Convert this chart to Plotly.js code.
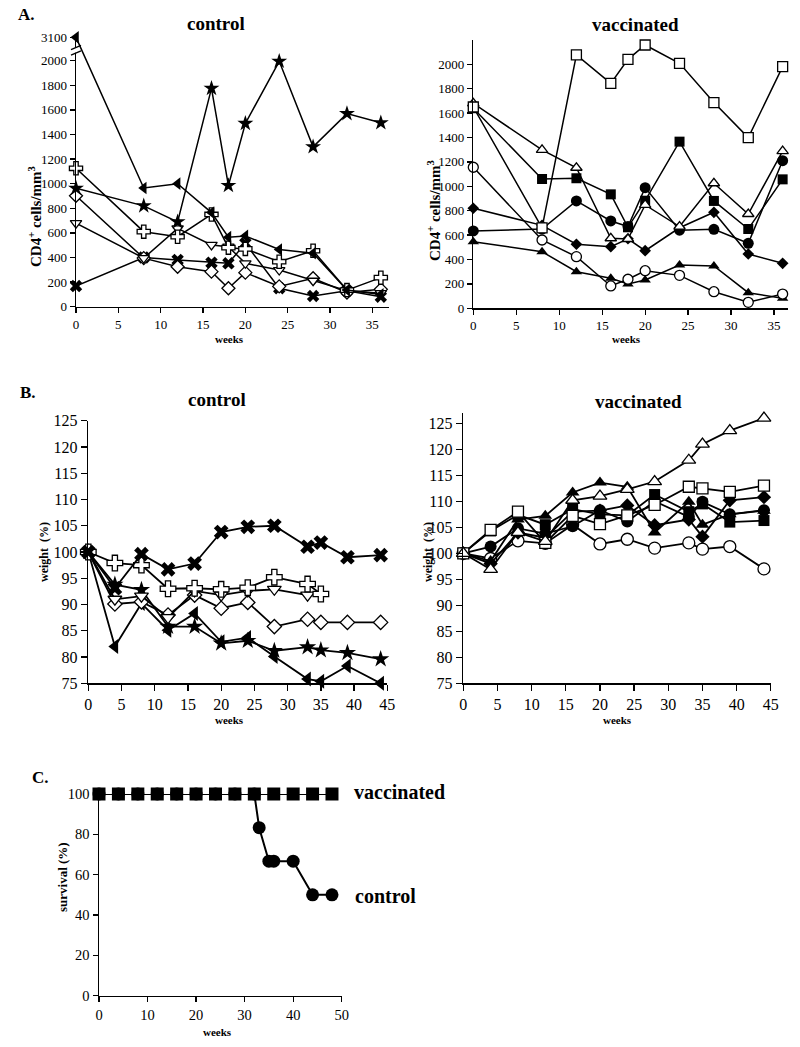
<!DOCTYPE html>
<html>
<head>
<meta charset="utf-8">
<script src="https://cdn.plot.ly/plotly-3.0.1.min.js"></script>
<style>
  body { margin: 0; background: white; }
  #fig { width: 800px; height: 1047px; }
</style>
</head>
<body>
<div id="fig"></div>
<script>
// CD4 counts and weights of control vs vaccinated animals, plus survival

// ---- A. CD4+ cells/mm3 ----
const weeksA = [0, 8, 12, 16, 18, 20, 24, 28, 32, 36];

const ctrlA_ltri   = [3100, 965, 1000, 765, 565, 575, 465, 435, 135, 100];
const ctrlA_star   = [963, 820, 690, 1775, 985, 1490, 1995, 1300, 1570, 1495];
const ctrlA_cross  = [1125, 610, 569, 750, 480, 470, 366, 455, 135, 236];
const ctrlA_tridn  = [680, 395, 637, 502, 488, 353, 298, 211, 130, 110];
const ctrlA_diam   = [902, 395, 325, 285, 150, 277, 165, 231, 115, 141];
const ctrlA_x      = [168, 400, 380, 358, 353, 515, 150, 87, 130, 81];

const vacA_sqOpen  = [1650, 660, 2077, 1844, 2041, 2158, 2008, 1686, 1399, 1981];
const vacA_triOpen = [1680, 1298, 1152, 574, 568, 847, 670, 1025, 773, 1289];
const vacA_sq      = [1640, 1060, 1066, 934, 664, 882, 1366, 880, 650, 1057];
const vacA_circ    = [634, 650, 880, 716, 670, 989, 640, 647, 533, 1210];
const vacA_diam    = [820, 680, 525, 505, 570, 472, 660, 787, 445, 369];
const vacA_circOpen= [1156, 560, 423, 183, 238, 308, 270, 136, 49, 117];
const vacA_tri     = [546, 464, 300, 246, 199, 232, 355, 347, 128, 82];

const ticksA = [0, 200, 400, 600, 800, 1000, 1200, 1400, 1600, 1800, 2000];

// ---- B. weight (%) ----
const weeksB = [0, 4, 8, 12, 16, 20, 24, 28, 33, 35, 39, 44];
const weeksB_cross = [0, 4, 8, 12, 16, 20, 24, 28, 33, 35];
const weeksB_tridn = [0, 4, 8, 12, 16, 20, 24, 28, 33];

const ctrlB_x     = [100, 93.1, 99.6, 96.7, 97.8, 103.8, 104.8, 105.0, 101.0, 101.8, 99.0, 99.4];
const ctrlB_cross = [100, 97.9, 97.5, 93.0, 93.1, 92.9, 93.2, 95.2, 93.9, 92.0];
const ctrlB_tridn = [100, 91.0, 91.6, 87.5, 92.6, 91.8, 92.6, 92.9, 91.8];
const ctrlB_diam  = [100, 90.1, 90.5, 88.0, 91.8, 89.3, 90.4, 85.8, 87.2, 86.6, 86.6, 86.6];
const ctrlB_star  = [100, 93.8, 92.8, 85.8, 85.8, 82.6, 83.1, 81.2, 81.9, 81.3, 80.8, 79.6];
const ctrlB_ltri  = [100, 82.0, 90.2, 85.1, 88.3, 82.9, 83.7, 80.1, 75.8, 75.4, 78.3, 75.0];

const vacB_triOpen = [100, 96.9, 104.0, 102.3, 110.2, 111.0, 112.3, 113.8, 117.9, 121.0, 123.6, 126.0];
const vacB_tri     = [100, 98.5, 106.5, 107.2, 111.7, 113.6, 112.8, 104.0, 109.9, 105.5, 107.5, 108.2];
const vacB_sqOpen  = [100, 104.5, 108.0, 102.0, 107.2, 105.6, 107.3, 109.3, 112.8, 112.5, 111.8, 113.0];
const vacB_circOpen= [100, 99.0, 102.4, 101.9, 105.5, 101.8, 102.7, 101.0, 102.0, 100.8, 101.3, 97.0];
const vacB_sq      = [100, 104.3, 107.4, 105.5, 108.5, 107.5, 107.3, 111.3, 108.0, 109.5, 106.0, 106.3];
const vacB_circ    = [100, 101.3, 104.8, 103.8, 105.2, 108.3, 106.1, 110.0, 107.0, 109.9, 107.5, 108.3];
const vacB_diam    = [100, 98.0, 104.0, 103.0, 108.0, 108.2, 109.2, 105.4, 106.5, 103.2, 110.2, 110.8];

// ---- C. survival (%) ----
const weeksC_vac  = [0, 4, 8, 12, 16, 20, 24, 28, 32, 36, 40, 44, 48];
const survC_vac   = [100, 100, 100, 100, 100, 100, 100, 100, 100, 100, 100, 100, 100];
const weeksC_ctrl = [0, 4, 8, 12, 16, 20, 24, 28, 32, 33, 35, 36, 40, 44, 48];
const survC_ctrl  = [100, 100, 100, 100, 100, 100, 100, 100, 100, 83.3, 66.7, 66.7, 66.7, 50, 50];

// ---------------------------------------------------------------

const FONT = '"Liberation Serif", "Times New Roman", serif';
const W = 800, H = 1047;

// pixel -> paper fraction
function px(x) { return x / W; }
function py(y) { return 1 - y / H; }

// y axis of A/control is broken between 2000 and 3100
const BREAK_POS = 2190;
function brk(v) { return v > 2100 ? BREAK_POS + (v - 3100) * 0.1 : v; }

function tr(ax, x, y, sym, filled, size, lw) {
    return {x: x, y: y,
            xaxis: ax === 1 ? 'x' : 'x' + ax,
            yaxis: ax === 1 ? 'y' : 'y' + ax,
            type: 'scatter', mode: 'lines+markers',
            cliponaxis: false,
            line: {color: 'black', width: lw || 1.5},
            marker: {symbol: sym, size: size,
                     color: filled ? 'black' : 'white',
                     line: {color: 'black', width: filled ? 0 : 1.3}},
            hoverinfo: 'x+y'};
}

const traces = [
    // A control
    tr(1, weeksA, ctrlA_x, 'x', true, 11),
    tr(1, weeksA, ctrlA_diam, 'diamond', false, 10),
    tr(1, weeksA, ctrlA_tridn, 'triangle-down', false, 10),
    tr(1, weeksA, ctrlA_cross, 'cross', false, 11),
    tr(1, weeksA, ctrlA_star, 'star', true, 12),
    tr(1, weeksA, ctrlA_ltri.map(brk), 'triangle-left', true, 11),
    // A vaccinated
    tr(2, weeksA, vacA_tri, 'triangle-up', true, 10),
    tr(2, weeksA, vacA_circOpen, 'circle', false, 10),
    tr(2, weeksA, vacA_diam, 'diamond', true, 9),
    tr(2, weeksA, vacA_circ, 'circle', true, 11),
    tr(2, weeksA, vacA_sq, 'square', true, 10),
    tr(2, weeksA, vacA_triOpen, 'triangle-up', false, 10),
    tr(2, weeksA, vacA_sqOpen, 'square', false, 10),
    // B control
    tr(3, weeksB, ctrlB_ltri, 'triangle-left', true, 13, 1.8),
    tr(3, weeksB, ctrlB_star, 'star', true, 13, 1.8),
    tr(3, weeksB, ctrlB_diam, 'diamond', false, 11, 1.8),
    tr(3, weeksB_tridn, ctrlB_tridn, 'triangle-down', false, 12, 1.8),
    tr(3, weeksB_cross, ctrlB_cross, 'cross', false, 13, 1.8),
    tr(3, weeksB, ctrlB_x, 'x', true, 13, 1.8),
    // B vaccinated
    tr(4, weeksB, vacB_circOpen, 'circle', false, 12, 1.8),
    tr(4, weeksB, vacB_diam, 'diamond', true, 11, 1.8),
    tr(4, weeksB, vacB_circ, 'circle', true, 12, 1.8),
    tr(4, weeksB, vacB_sq, 'square', true, 11, 1.8),
    tr(4, weeksB, vacB_tri, 'triangle-up', true, 12, 1.8),
    tr(4, weeksB, vacB_sqOpen, 'square', false, 11, 1.8),
    tr(4, weeksB, vacB_triOpen, 'triangle-up', false, 12, 1.8),
    // C survival
    tr(5, weeksC_ctrl, survC_ctrl, 'circle', true, 13, 2),
    tr(5, weeksC_vac, survC_vac, 'square', true, 13, 2)
];

function axis(extra) {
    const base = {showline: true, linecolor: 'black', linewidth: 1.5,
                  ticks: 'outside', ticklen: 5, tickwidth: 1.3, tickcolor: 'black',
                  showgrid: false, zeroline: false, automargin: false,
                  tickfont: {family: FONT, size: 13, color: 'black'}};
    return Object.assign(base, extra);
}

const fontB = {family: FONT, size: 16, color: 'black'};

const layout = {
    width: W, height: H,
    margin: {l: 0, r: 0, t: 0, b: 0},
    paper_bgcolor: 'white', plot_bgcolor: 'white',
    showlegend: false,
    font: {family: FONT, color: 'black'},

    xaxis:  axis({domain: [px(76), px(389.3)], range: [0, 37], anchor: 'y',
                  tickvals: [0, 5, 10, 15, 20, 25, 30, 35]}),
    yaxis:  axis({domain: [py(306.7), py(36.1)], range: [0, 2200], anchor: 'x',
                  tickvals: ticksA.concat([BREAK_POS]),
                  ticktext: ticksA.map(String).concat(['3100'])}),

    xaxis2: axis({domain: [px(473.3), px(787.8)], range: [0, 36.6], anchor: 'y2',
                  tickvals: [0, 5, 10, 15, 20, 25, 30, 35]}),
    yaxis2: axis({domain: [py(308.3), py(39.9)], range: [0, 2200], anchor: 'x2',
                  tickvals: ticksA}),

    xaxis3: axis({domain: [px(88.3), px(387.3)], range: [0, 45], anchor: 'y3', dtick: 5,
                  ticklen: 6, tickfont: fontB}),
    yaxis3: axis({domain: [py(683.3), py(420.7)], range: [75, 125], anchor: 'x3', dtick: 5,
                  ticklen: 6, tickfont: fontB}),

    xaxis4: axis({domain: [px(463.3), px(770.8)], range: [0, 45], anchor: 'y4', dtick: 5,
                  ticklen: 6, tickfont: fontB}),
    yaxis4: axis({domain: [py(683.3), py(412.9)], range: [75, 127], anchor: 'x4',
                  tickvals: [75, 80, 85, 90, 95, 100, 105, 110, 115, 120, 125],
                  ticklen: 6, tickfont: fontB}),

    xaxis5: axis({domain: [px(99), px(341.7)], range: [0, 50], anchor: 'y5', dtick: 10,
                  tickfont: {family: FONT, size: 14.5, color: 'black'}}),
    yaxis5: axis({domain: [py(995.7), py(794)], range: [0, 100], anchor: 'x5', dtick: 20,
                  tickfont: {family: FONT, size: 14.5, color: 'black'}}),

    // axis break marks on A/control y axis
    shapes: [
        {type: 'rect', xref: 'paper', yref: 'y', x0: px(73), x1: px(79), y0: 2065, y1: 2105,
         fillcolor: 'white', line: {width: 0}},
        {type: 'line', xref: 'paper', yref: 'y', x0: px(71), x1: px(81), y0: 2045, y1: 2080,
         line: {color: 'black', width: 1.3}},
        {type: 'line', xref: 'paper', yref: 'y', x0: px(71), x1: px(81), y0: 2090, y1: 2125,
         line: {color: 'black', width: 1.3}}
    ],
    annotations: []
};

function label(text, x, y, size, opts) {
    layout.annotations.push(Object.assign({
        text: text, xref: 'paper', yref: 'paper', x: px(x), y: py(y),
        showarrow: false, xanchor: 'center', yanchor: 'middle',
        font: {family: FONT, size: size, color: 'black'}
    }, opts || {}));
}

// panel letters and titles
label('<b>A.</b>', 16, 15, 17, {xanchor: 'left'});
label('<b>B.</b>', 18, 392, 17, {xanchor: 'left'});
label('<b>C.</b>', 30, 777, 17, {xanchor: 'left'});
label('<b>control</b>', 216, 23, 19);
label('<b>vaccinated</b>', 635, 25, 19);
label('<b>control</b>', 217, 399, 19);
label('<b>vaccinated</b>', 638, 401, 19);

// axis titles
label('<b>weeks</b>', 229, 339, 11);
label('<b>weeks</b>', 626, 339, 11);
label('<b>weeks</b>', 230, 720, 11);
label('<b>weeks</b>', 617, 720, 11);
label('<b>weeks</b>', 217, 1032, 11);
label('<b>CD4<sup>+</sup> cells/mm<sup>3</sup></b>', 35, 217, 15, {textangle: -90});
label('<b>CD4<sup>+</sup> cells/mm<sup>3</sup></b>', 434, 211, 15, {textangle: -90});
label('<b>weight  (%)</b>', 44, 552, 12, {textangle: -90});
label('<b>weight  (%)</b>', 428, 552, 12, {textangle: -90});
label('<b>survival (%)</b>', 62, 877, 13, {textangle: -90});

// survival curve labels
label('<b>vaccinated</b>', 352, 792, 20, {xanchor: 'left'});
label('<b>control</b>', 353, 896, 20, {xanchor: 'left'});

Plotly.newPlot('fig', traces, layout, {staticPlot: true});
</script>
</body>
</html>
